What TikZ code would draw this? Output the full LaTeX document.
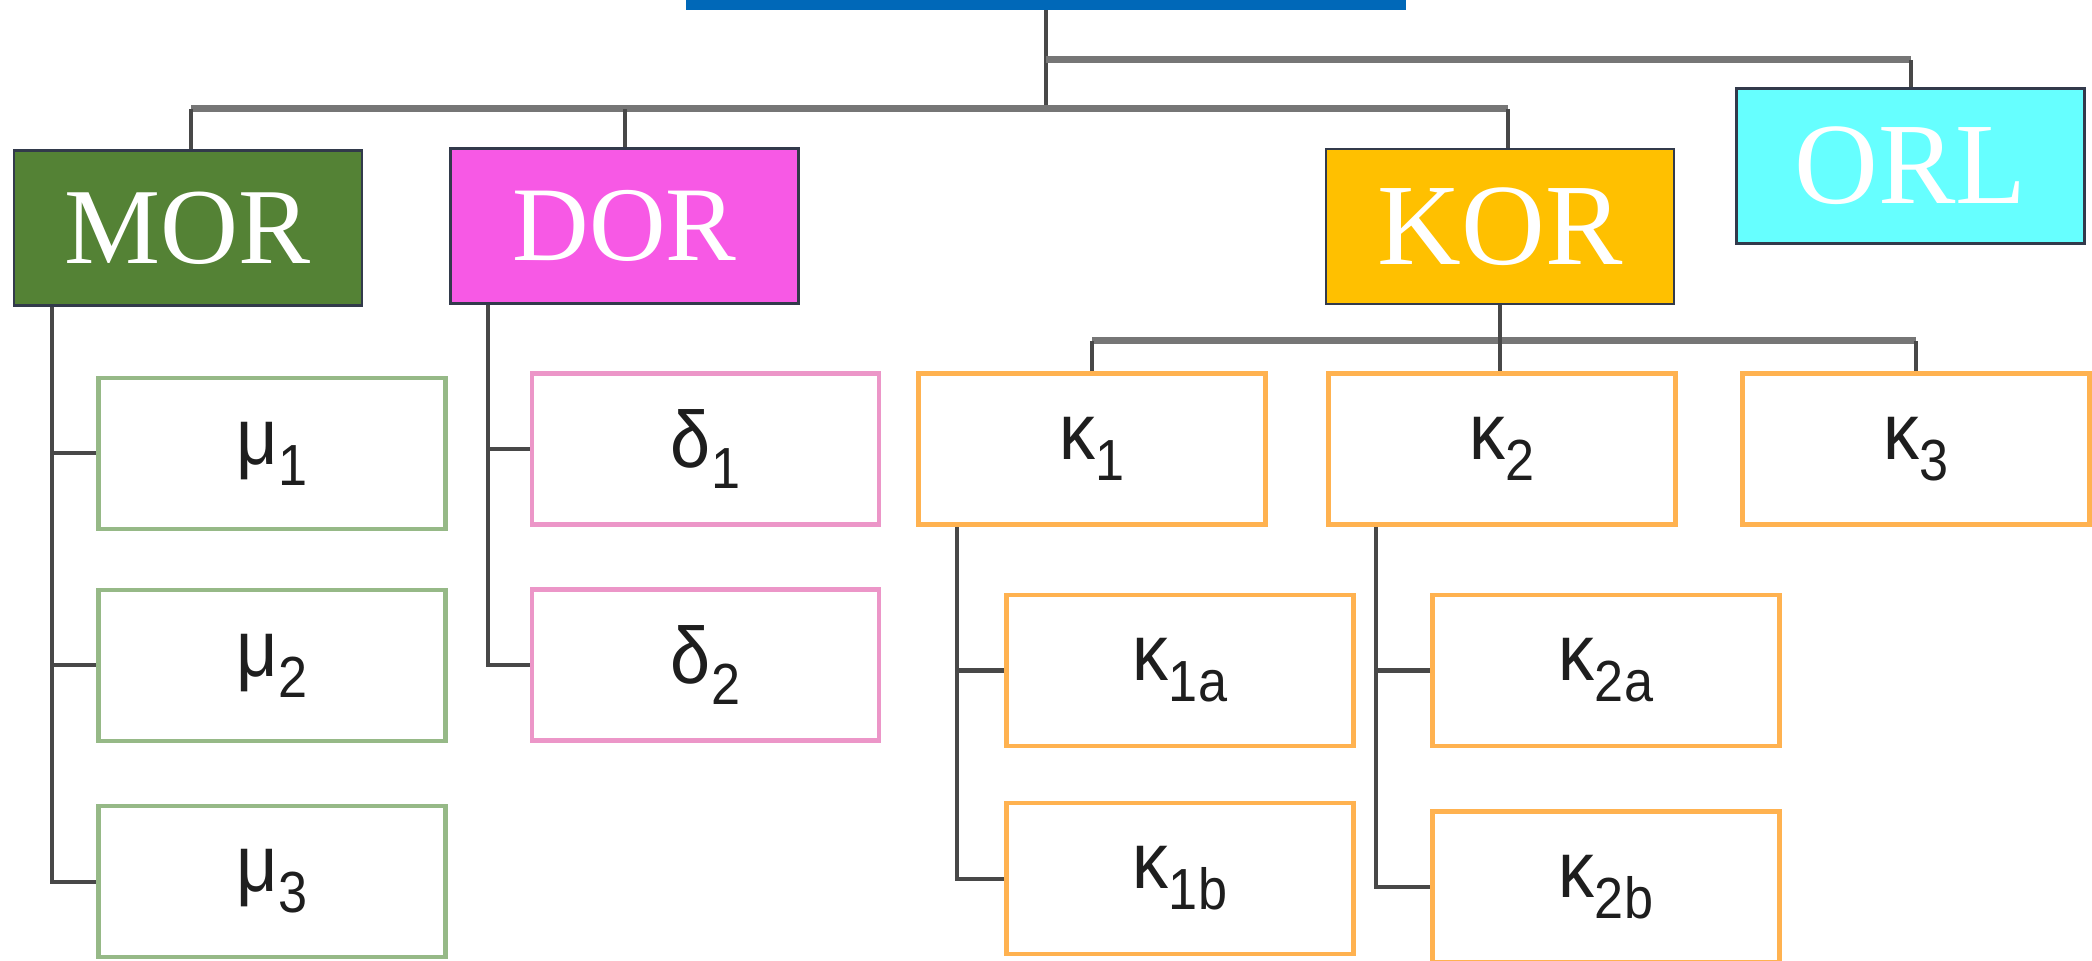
\documentclass[tikz,border=0pt]{standalone}
\usepackage{fontspec}
\setmainfont{Liberation Serif}
\newfontfamily\grkfont[FakeStretch=0.9]{Liberation Sans}
% Greek symbol with a lowered subscript
\newcommand{\gsym}[2]{{\grkfont\fontsize{40pt}{40pt}\selectfont #1\raisebox{-10.5pt}{\fontsize{29pt}{29pt}\selectfont #2}}}

\definecolor{rootblue}{RGB}{0,104,184}
\definecolor{morgreen}{RGB}{84,130,53}
\definecolor{dorpink}{RGB}{247,89,229}
\definecolor{koryellow}{RGB}{255,192,0}
\definecolor{orlcyan}{RGB}{102,255,255}
\definecolor{boxedge}{RGB}{50,58,75}
\definecolor{muedge}{RGB}{150,185,135}
\definecolor{deedge}{RGB}{236,150,200}
\definecolor{kaedge}{RGB}{255,178,80}
\definecolor{linkgray}{RGB}{72,72,72}
\definecolor{busgray}{RGB}{118,118,118}

\begin{document}
\begin{tikzpicture}[x=0.5pt,y=-0.5pt,
  topbox/.style={draw=boxedge, line width=1.2pt, text=white, inner sep=0pt,
    minimum width=174pt, minimum height=77.5pt},
  subbox/.style={fill=white, line width=2.4pt, inner sep=0pt,
    minimum width=173.5pt, minimum height=75.5pt, text={rgb,255:red,30;green,30;blue,30}},
  mubox/.style={subbox, draw=muedge},
  debox/.style={subbox, draw=deedge},
  kabox/.style={subbox, draw=kaedge},
  link/.style={draw=linkgray, line width=2pt},
  bus/.style={draw=busgray, line width=3.5pt}]

\useasboundingbox (0,0) rectangle (2092,961);

% root bar, mostly above the page
\node[fill=rootblue, inner sep=0pt, minimum width=360pt, minimum height=35pt] (root) at (1046,-25) {};

% first level
\node[topbox, fill=morgreen, font=\fontsize{54pt}{54pt}\selectfont] (mor) at (188,228) {MOR};
\node[topbox, fill=dorpink, font=\fontsize{53pt}{53pt}\selectfont] (dor) at (624.5,226) {DOR};
\node[topbox, fill=koryellow, font=\fontsize{58pt}{58pt}\selectfont] (kor) at (1500,226.5) {KOR};
\node[topbox, fill=orlcyan, font=\fontsize{58pt}{58pt}\selectfont] (orl) at (1910.5,166) {ORL};

% MOR branch
\node[mubox] (mu1) at (272,453.5) {\gsym{μ}{1}};
\node[mubox] (mu2) at (272,665.5) {\gsym{μ}{2}};
\node[mubox] (mu3) at (272,881.5) {\gsym{μ}{3}};

% DOR branch
\node[debox] (de1) at (705.5,449) {\gsym{δ}{1}};
\node[debox] (de2) at (705.5,665) {\gsym{δ}{2}};

% KOR branch
\node[kabox] (ka1) at (1092,449) {\gsym{κ}{1}};
\node[kabox] (ka2) at (1502,449) {\gsym{κ}{2}};
\node[kabox] (ka3) at (1916,449) {\gsym{κ}{3}};
\node[kabox] (ka1a) at (1180,670.5) {\gsym{κ}{1a}};
\node[kabox] (ka1b) at (1180,878.5) {\gsym{κ}{1b}};
\node[kabox] (ka2a) at (1606,670.5) {\gsym{κ}{2a}};
\node[kabox] (ka2b) at (1606,887) {\gsym{κ}{2b}};

% top-level connectors
\coordinate (busA) at (1046,109);
\coordinate (busB) at (1046,60);
\coordinate (kordrop) at ([xshift=4pt]kor.north);
\coordinate (mordrop) at ([xshift=1.5pt]mor.north);
\draw[link] (root.south) -- (busA);
\draw[bus] (mordrop |- busA) -- (kordrop |- busA);
\draw[bus] (busB) -- (orl.north |- busB);
\draw[link] (mordrop) -- (mordrop |- busA);
\draw[link] (dor.north) -- (dor.north |- busA);
\draw[link] (kordrop) -- (kordrop |- busA);
\draw[link] (orl.north) -- (orl.north |- busB);

% MOR trunk
\coordinate (mtrunk) at ([xshift=19.5pt]mor.south west);
\draw[link] (mtrunk) |- (mu3.west);
\draw[link] (mu1.west) -- (mu1.west -| mtrunk);
\draw[link] (mu2.west) -- (mu2.west -| mtrunk);

% DOR trunk
\coordinate (dtrunk) at ([xshift=19.5pt]dor.south west);
\draw[link] (dtrunk) |- (de2.west);
\draw[link] (de1.west) -- (de1.west -| dtrunk);

% KOR bus
\coordinate (kbus) at (1501,341);
\draw[bus] (ka1.north |- kbus) -- (ka3.north |- kbus);
\draw[link] (kor.south) -- (kor.south |- ka2.north);
\draw[link] (ka1.north) -- (ka1.north |- kbus);
\draw[link] (ka3.north) -- (ka3.north |- kbus);

% kappa sub-trunks
\coordinate (k1trunk) at ([xshift=20.5pt]ka1.south west);
\draw[link] (k1trunk) |- (ka1b.west);
\draw[link] (ka1a.west) -- (ka1a.west -| k1trunk);
\coordinate (k2trunk) at ([xshift=25pt]ka2.south west);
\draw[link] (k2trunk) |- (ka2b.west);
\draw[link] (ka2a.west) -- (ka2a.west -| k2trunk);
\end{tikzpicture}
\end{document}
